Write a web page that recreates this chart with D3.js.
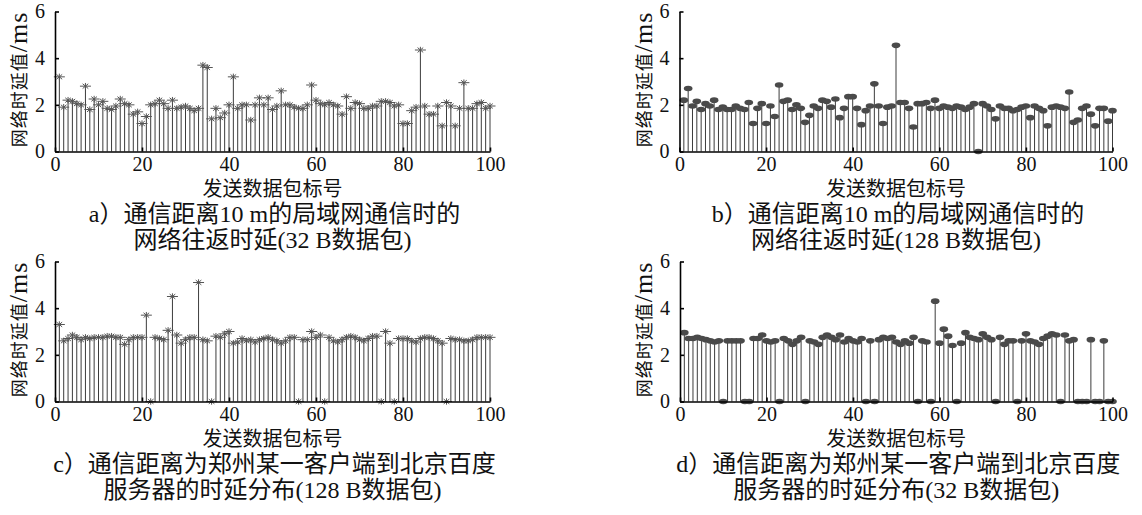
<!DOCTYPE html>
<html><head><meta charset="utf-8">
<script src="https://cdn.jsdelivr.net/npm/d3@7"></script>
<style>body{margin:0;background:#fff}svg{display:block}</style>
</head><body>
<svg id="chart" width="1142" height="515"></svg>
<script>
// ---- data ----
const packetIds = d3.range(1, 101);
const xTickValues = [0, 20, 40, 60, 80, 100];
const yTickValues = [0, 2, 4, 6];

const delayA = [3.2,1.9,2.2,2.15,2.05,2.0,2.8,1.8,2.25,2.0,
 2.15,1.85,1.8,1.95,2.25,2.05,2.0,1.6,1.7,1.2,
 1.5,2.0,2.05,2.2,2.05,1.85,2.2,1.85,1.9,1.95,
 1.85,1.75,1.85,3.7,3.6,1.4,1.85,1.45,1.65,2.0,
 3.2,1.85,2.0,2.0,1.35,2.0,2.3,2.0,2.3,1.8,
 1.95,2.6,2.0,2.0,1.9,1.85,1.85,2.0,2.85,2.2,
 2.05,2.0,2.1,2.0,1.95,1.6,2.35,1.85,2.1,2.05,
 1.85,1.85,1.95,1.95,2.15,2.15,2.1,1.95,2.0,1.2,
 1.2,1.75,1.9,4.35,1.95,1.6,1.6,1.95,1.1,2.1,
 1.95,1.1,1.85,2.95,1.85,1.85,2.05,2.1,1.85,1.95];

const delayB = [2.2,2.7,1.95,2.15,1.8,2.05,1.95,2.2,1.8,1.9,
 1.8,1.8,1.95,1.85,1.8,2.1,1.2,1.85,2.05,1.2,
 1.95,1.5,2.85,2.15,2.2,1.8,2.0,1.85,1.25,1.55,
 1.95,1.85,2.2,2.15,1.9,2.25,1.45,1.85,2.35,2.35,
 1.85,1.15,1.75,1.95,2.9,1.95,1.2,1.9,1.95,4.55,
 2.1,2.1,1.85,1.05,2.05,2.05,2.1,1.85,2.2,1.85,
 1.95,1.9,1.85,1.95,1.9,1.8,1.9,2.05,0,2.05,
 1.95,1.8,1.4,1.95,1.85,1.85,1.75,1.8,1.9,1.95,
 1.45,1.95,1.85,1.75,1.1,1.9,1.95,1.9,1.85,2.55,
 1.25,1.35,1.85,1.95,1.6,1.1,1.85,1.85,1.3,1.75];

const delayC = [3.3,2.6,2.7,2.85,2.75,2.65,2.75,2.7,2.75,2.75,
 2.75,2.8,2.8,2.75,2.75,2.45,2.65,2.75,2.75,2.75,
 3.7,0,2.75,2.7,2.65,3.05,4.5,2.85,2.5,2.65,
 2.75,2.75,5.1,2.65,2.6,0,2.8,2.75,2.9,3.0,
 2.5,2.55,2.7,2.6,2.65,2.55,2.65,2.7,2.75,2.65,
 2.6,2.5,2.6,2.75,2.75,0,2.65,2.65,3.0,2.75,
 2.85,0,2.75,2.6,2.55,2.65,2.75,2.8,2.75,2.65,
 2.6,2.7,2.8,2.8,0,3.0,2.5,0,2.7,2.7,
 2.7,2.6,2.55,2.7,2.75,2.75,2.7,2.6,2.5,0,
 2.7,2.65,2.65,2.6,2.6,2.65,2.75,2.75,2.75,2.75];

const delayD = [2.95,2.7,2.7,2.75,2.7,2.65,2.6,2.55,2.6,0,
 2.6,2.6,2.6,2.6,0,0,2.7,2.7,2.85,2.6,
 2.55,2.6,0,2.7,2.6,2.45,2.6,2.75,0,2.6,
 2.55,2.45,2.75,2.85,2.75,2.65,2.85,2.55,2.7,2.6,
 2.55,2.7,0,2.6,0,2.65,2.75,2.7,2.75,2.55,
 2.45,2.6,2.5,2.75,0,2.6,2.55,0,4.3,2.5,
 3.1,2.8,2.4,0,2.5,2.95,2.75,2.7,2.65,2.9,
 2.75,2.65,0,2.75,2.45,2.6,2.6,0,2.6,2.9,
 2.6,2.55,2.45,2.7,2.8,2.9,2.85,0,2.85,2.6,
 2.65,0,0,0,2.65,0,0,2.6,0,0];

const yLabelText = "网络时延值";
const yLabelUnit = "/ms";
const xLabelText = "发送数据包标号";
const captionA = ["a）通信距离10 m的局域网通信时的", "网络往返时延(32 B数据包)"];
const captionB = ["b）通信距离10 m的局域网通信时的", "网络往返时延(128 B数据包)"];
const captionC = ["c）通信距离为郑州某一客户端到北京百度", "服务器的时延分布(128 B数据包)"];
const captionD = ["d）通信距离为郑州某一客户端到北京百度", "服务器的时延分布(32 B数据包)"];

// ---- layout ----
const panels = [
  {values: delayA, marker: "star", x0: 55, x1: 490, y0: 151.5, y6: 11.5, caption: captionA},
  {values: delayB, marker: "dot",  x0: 679.5, x1: 1112.5, y0: 151.5, y6: 11.5, caption: captionB},
  {values: delayC, marker: "star", x0: 55, x1: 490, y0: 401.5, y6: 261.5, caption: captionC},
  {values: delayD, marker: "dot",  x0: 680, x1: 1112.5, y0: 401.5, y6: 261.5, caption: captionD}
];

const svg = d3.select("#chart");
const serif = "'Liberation Serif','Noto Sans CJK SC',serif";
const cjk = "'Noto Sans CJK SC','Liberation Serif',sans-serif";
const starPath = "M-5.5,0H5.5M0,-3.2V3.2M-2.8,-2.4L2.8,2.4M-2.8,2.4L2.8,-2.4";

panels.forEach(p => {
  const g = svg.append("g");
  const x = d3.scaleLinear().domain([0, 100]).range([p.x0, p.x1]);
  const y = d3.scaleLinear().domain([0, 6]).range([p.y0, p.y6]);
  const pts = packetIds.map((id, k) => ({id, v: p.values[k]}));

  // stems
  g.append("g").selectAll("line").data(pts).join("line")
    .attr("x1", d => x(d.id)).attr("x2", d => x(d.id))
    .attr("y1", y(0)).attr("y2", d => y(d.v))
    .attr("stroke", "#3c3c3c").attr("stroke-width", 1);

  // markers
  if (p.marker === "star") {
    g.append("g").selectAll("path").data(pts).join("path")
      .attr("transform", d => `translate(${x(d.id)},${y(d.v)})`)
      .attr("d", starPath)
      .attr("fill", "none").attr("stroke", "#555").attr("stroke-width", 1);
  } else {
    g.append("g").selectAll("ellipse").data(pts).join("ellipse")
      .attr("cx", d => x(d.id)).attr("cy", d => y(d.v))
      .attr("rx", 4.3).attr("ry", 2.8)
      .attr("fill", "#4a4a4a");
  }

  // axes
  const ax = g.append("g").attr("transform", `translate(0,${p.y0})`)
    .call(d3.axisBottom(x).tickValues(xTickValues).tickFormat(d3.format("d"))
      .tickSizeInner(-4).tickSizeOuter(0).tickPadding(5));
  const ay = g.append("g").attr("transform", `translate(${p.x0},0)`)
    .call(d3.axisLeft(y).tickValues(yTickValues).tickFormat(d3.format("d"))
      .tickSizeInner(-4).tickSizeOuter(0).tickPadding(10));
  [ax, ay].forEach(a => {
    a.select(".domain").attr("stroke", "#000").attr("stroke-width", 1.6);
    a.selectAll(".tick line").attr("stroke", "#000").attr("stroke-width", 1.6);
    a.selectAll(".tick text").attr("font-family", serif).attr("font-size", 20).attr("fill", "#111");
  });

  const cx = (p.x0 + p.x1) / 2;
  // y label
  const yl = g.append("text")
    .attr("transform", `translate(${p.x0 - 37},${(p.y0 + p.y6) / 2 - 2}) rotate(-90)`)
    .attr("text-anchor", "middle").attr("dominant-baseline", "central")
    .attr("letter-spacing", 1)
    .attr("fill", "#111");
  yl.append("tspan").attr("font-family", cjk).attr("font-size", 18).text(yLabelText);
  yl.append("tspan").attr("font-family", serif).attr("font-size", 26).text(yLabelUnit);

  // x label
  g.append("text").attr("x", cx).attr("y", p.y0 + 36)
    .attr("text-anchor", "middle").attr("dominant-baseline", "central")
    .attr("font-family", cjk).attr("font-size", 20).attr("fill", "#111")
    .text(xLabelText);

  // caption
  p.caption.forEach((line, k) => {
    g.append("text").attr("x", cx + (k === 0 ? 2 : 0)).attr("y", p.y0 + 62 + k * 26)
      .attr("text-anchor", "middle").attr("dominant-baseline", "central")
      .attr("font-family", serif).attr("font-size", 24).attr("fill", "#111")
      .text(line);
  });
});
</script>
</body></html>
